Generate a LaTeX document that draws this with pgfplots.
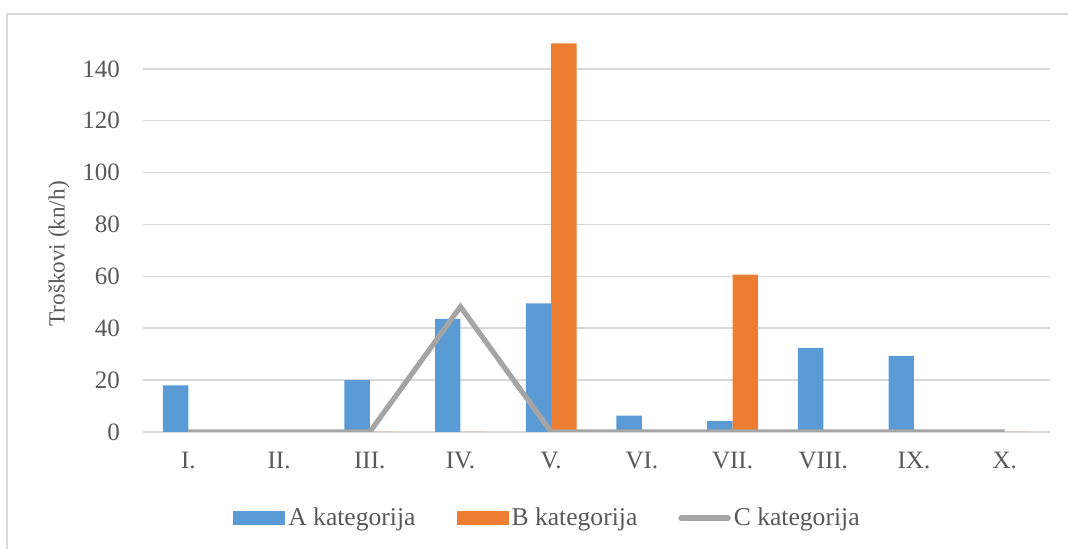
\documentclass[border=0pt]{standalone}
\usepackage{pgfplots}
\pgfplotsset{compat=1.18}
\usepackage{fontspec}
\setmainfont{Liberation Serif}

\definecolor{cA}{RGB}{91,155,213}
\definecolor{cB}{RGB}{237,125,49}
\definecolor{cC}{RGB}{165,165,165}
\definecolor{txt}{RGB}{89,89,89}
\definecolor{grd}{RGB}{217,217,217}

\begin{document}
\begin{tikzpicture}
\begin{axis}[
	at={(0,0)}, anchor=south west,
	scale only axis,
	width=453.5pt, height=207.5pt,
	xmin=-0.5, xmax=9.5,
	ymin=0, ymax=160,
	xtick={0,...,9},
	xticklabels={I.,II.,III.,IV.,V.,VI.,VII.,VIII.,IX.,X.},
	ytick={0,20,...,140},
	ymajorgrids,
	grid style={grd, line width=0.75pt},
	axis line style={draw=none},
	major tick length=0pt,
	font=\fontsize{12.5}{14}\selectfont,
	tick label style={txt},
	/pgf/number format/assume math mode=true,
	xticklabel style={yshift=-6.5pt},
	yticklabel style={xshift=-8pt},
	ylabel={Troškovi (kn/h)},
	ylabel style={txt, font=\fontsize{11.6}{13}\selectfont,
		at={([xshift=-42pt]rel axis cs:0,0.429)}, anchor=center},
	legend style={at={(axis description cs:0.4465,-0.207)}, anchor=center,
		draw=none, fill=none, legend columns=3, text=txt,
		font=\fontsize{12.8}{14}\selectfont,
		nodes={inner sep=1.5pt},
		/tikz/every even column/.append style={column sep=19pt}},
	legend cell align=left,
]
\addplot[ybar, bar width=12.7pt, bar shift=-6.35pt, fill=cA, draw=none,
	legend image code/.code={\fill[cA] (0pt,-3.5pt) rectangle (26pt,3.5pt);}]
coordinates {(0,18) (1,0) (2,20) (3,43.6) (4,49.6) (5,6.3) (6,4.2) (7,32.4) (8,29.3) (9,0)};
\addplot[ybar, bar width=12.7pt, bar shift=6.35pt, fill=cB, draw=none,
	legend image code/.code={\fill[cB] (0pt,-3.5pt) rectangle (26pt,3.5pt);}]
coordinates {(0,0) (1,0) (2,0) (3,0) (4,149.8) (5,0) (6,60.7) (7,0) (8,0) (9,0)};
\addplot[cC, line width=2.6pt, mark=none,
	legend image code/.code={\draw[cC, line width=2.6pt, line cap=round] (1.2pt,0pt) -- (24.8pt,0pt);}]
coordinates {(0,0) (1,0) (2,0) (3,48.3) (4,0) (5,0) (6,0) (7,0) (8,0) (9,0)};
\legend{A kategorija, B kategorija, C kategorija}
\end{axis}
\draw[grd, line width=0.75pt] (-68pt,-58.5pt) -- (-68pt,209pt) -- (462.5pt,209pt);
\pgfresetboundingbox
\useasboundingbox (-71.5pt,-58.5pt) rectangle (462.5pt,216pt);
\end{tikzpicture}
\end{document}
